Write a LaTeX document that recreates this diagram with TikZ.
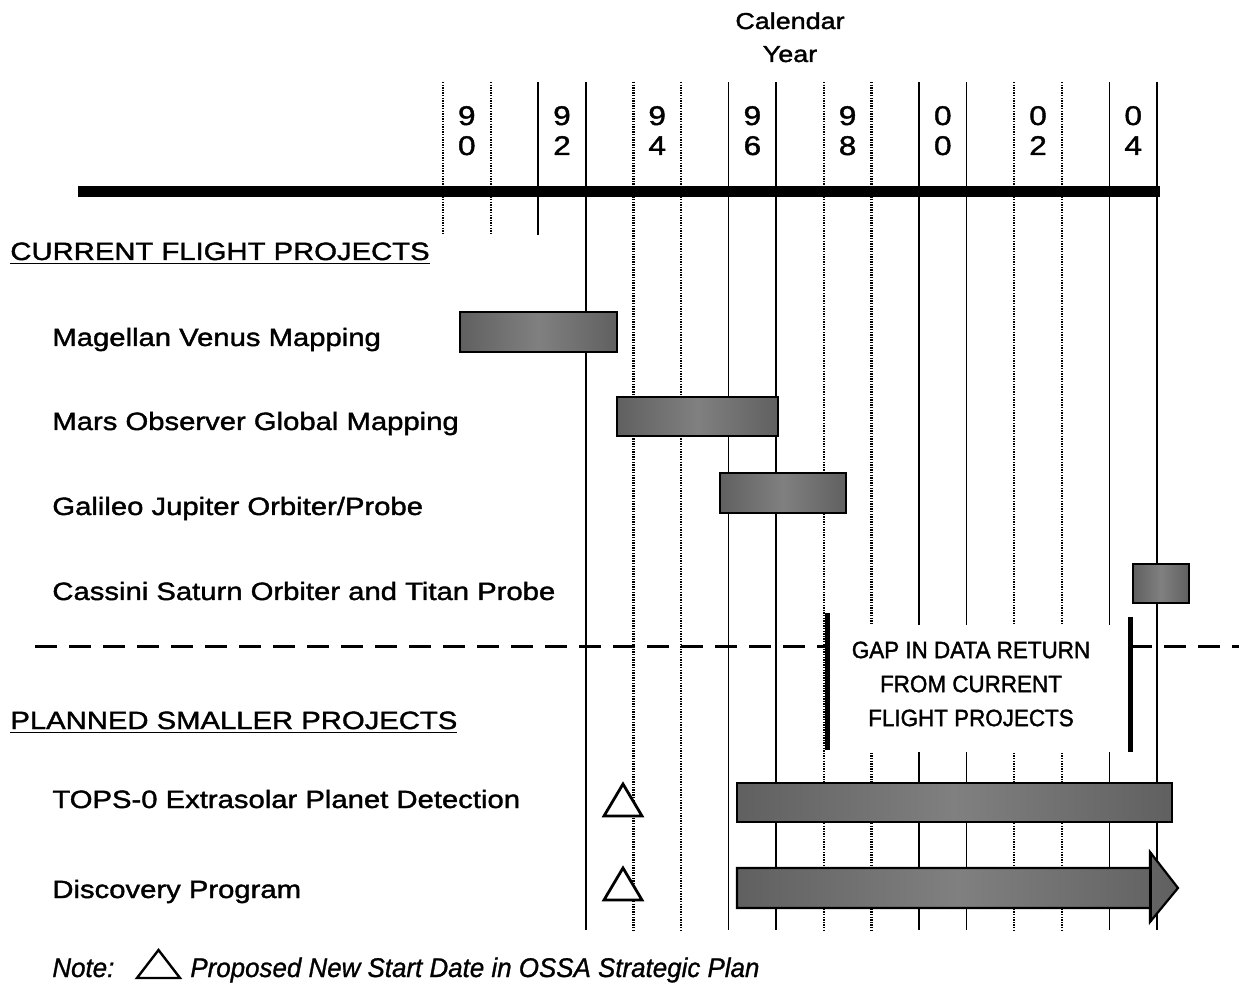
\documentclass[tikz,border=0pt]{standalone}
\usepackage{fontspec}
\setmainfont{Liberation Sans}[FakeStretch=1.17,FakeBold=1.5]
\newfontfamily\gapfont{Liberation Sans}[FakeStretch=0.95,FakeBold=1.5]
\newfontfamily\notefont{Liberation Sans}[FakeStretch=0.96,FakeBold=1]
\usetikzlibrary{positioning}
\definecolor{barfill}{RGB}{128,128,128}
\definecolor{barend}{RGB}{96,96,96}

\begin{document}
\begin{tikzpicture}[
    x=0.5pt,y=-0.5pt,
    txt/.style={anchor=base west,inner sep=0pt,font=\fontsize{12.5}{15}\selectfont},
    digit/.style={anchor=base,inner sep=0pt,font=\fontsize{13.5}{15}\selectfont},
    calyear/.style={anchor=base,inner sep=0pt,font=\fontsize{11.5}{14}\selectfont},
    gridsolid/.style={line width=0.8pt},
    griddot/.style={line width=1.1pt,dash pattern=on 0.7pt off 0.6pt},
    axis/.style={line width=5.5pt},
    bar/.style={draw=black,line width=1.1pt,left color=barend,right color=barend,middle color=barfill},
    tri/.style={draw=black,line width=1.4pt,fill=white,line join=miter},
    gapbar/.style={line width=2.5pt},
    sep/.style={line width=1.5pt,dash pattern=on 11pt off 6pt}
  ]
    \useasboundingbox (0,0) rectangle (1239,984);
    % year grid
    \foreach \i in {0,...,15}{
      \pgfmathsetmacro\gx{443+47.6*\i}
      \pgfmathtruncatemacro\m{mod(\i,4)}
      \pgfmathsetmacro\gend{\i<3 ? 235 : 930}
      \ifnum\m<2 \def\gs{griddot}\else\def\gs{gridsolid}\fi
      \draw[\gs] (\gx,82) -- (\gx,\gend);
    }
    \foreach \a/\b [count=\k from 0] in {9/0,9/2,9/4,9/6,9/8,0/0,0/2,0/4}{
      \pgfmathsetmacro\yx{443+47.6*(2*\k+0.5)}
      \node[digit] (yt\k) at (\yx,125) {\a};
      \node[digit] (yb\k) at (\yx,155) {\b};
    }
    \node[calyear] (cal) at (790,29) {Calendar};
    \node[calyear] (calyr) at (790,62) {Year};
    \draw[axis] (78,192) -- (1160,192);

    % gap in data return
    \node[fill=white,inner sep=0pt,minimum width=145pt,minimum height=63.5pt] (gapbox) at (977,688.5) {};
    \node[align=center,inner sep=0pt,font=\gapfont\fontsize{11.8}{17}\selectfont] (gaptext) at (971,684)
      {GAP IN DATA RETURN\\FROM CURRENT\\FLIGHT PROJECTS};
    \coordinate (gapL) at (827,647);
    \coordinate (gapR) at (1130,647);
    \draw[sep] (35,647) -- (gapL);
    \draw[sep] (gapR) -- (1239,647);
    \draw[gapbar] (827,613) -- (827,750);
    \draw[gapbar] (1130,617) -- (1130,752);

    % project labels
    \node[txt] (current) at (10,260) {\underline{CURRENT FLIGHT PROJECTS}};
    \node[txt] (magellan) at (52,346) {Magellan Venus Mapping};
    \node[txt] (mars) at (52,430) {Mars Observer Global Mapping};
    \node[txt] (galileo) at (52,515) {Galileo Jupiter Orbiter/Probe};
    \node[txt] (cassini) at (52,600) {Cassini Saturn Orbiter and Titan Probe};
    \node[txt] (planned) at (10,729) {\underline{PLANNED SMALLER PROJECTS}};
    \node[txt] (tops) at (52,808) {TOPS-0 Extrasolar Planet Detection};
    \node[txt] (discovery) at (52,898) {Discovery Program};

    % bars
    \draw[bar] (460,312) rectangle (617,352);
    \draw[bar] (617,397) rectangle (778,436);
    \draw[bar] (720,473) rectangle (846,513);
    \draw[bar] (1133,564) rectangle (1189,603);
    \draw[bar] (737,783) rectangle (1172,822);
    \draw[bar] (737,868) -- (1150,868) -- (1150,852) -- (1178,888)
      -- (1150,922) -- (1150,908) -- (737,908) -- cycle;
    \draw[line width=1.5pt] (1150,852) -- (1150,922);

    % new start dates
    \draw[tri] (604,816) -- (623,784) -- (642,816) -- cycle;
    \draw[tri] (604,900) -- (623,868) -- (642,900) -- cycle;

    % note
    \node[txt,font=\notefont\itshape\fontsize{13.5}{15}\selectfont] (note) at (52,977) {Note:};
    \draw[tri,line width=1.2pt] (137,978) -- (158.5,950) -- (180,978) -- cycle;
    \node[txt,font=\notefont\itshape\fontsize{13.5}{15}\selectfont] (notetext) at (190,977)
      {Proposed New Start Date in OSSA Strategic Plan};
\end{tikzpicture}
\end{document}
